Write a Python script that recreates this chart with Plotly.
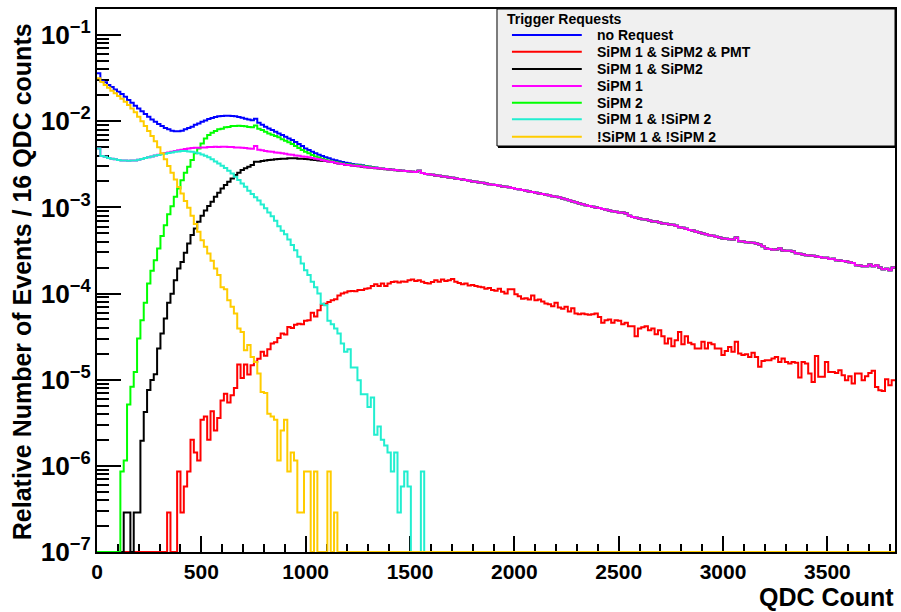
import numpy as np
import plotly.graph_objects as go

# ---------------------------------------------------------------------------
# Histogram binning: 16 QDC counts per bin
# ---------------------------------------------------------------------------
BIN_WIDTH = 16
N_BINS = 239
X_MAX = N_BINS * BIN_WIDTH
Y_FLOOR = 1e-7          # empty bins are drawn on the frame minimum (log scale)
Y_TOP_LOG = -0.697

# Trigger request categories (legend order)
names = [
    "no Request",
    "SiPM 1 & SiPM2 & PMT",
    "SiPM 1 & SiPM2",
    "SiPM 1",
    "SiPM 2",
    "SiPM 1 & !SiPM 2",
    "!SiPM 1 & !SiPM 2",
]
colors = ["#0000ff", "#ff0000", "#000000", "#ff00ff", "#00ff00", "#22eed0", "#ffcc00"]

# Region above ~1440 QDC where every SiPM-2-triggered sample coincides
tail_common = [
    2.69e-3, 2.66e-3, 2.64e-3, 2.62e-3, 2.59e-3, 2.57e-3, 2.66e-3, 2.50e-3, 2.45e-3, 2.42e-3,
    2.39e-3, 2.35e-3, 2.33e-3, 2.29e-3, 2.27e-3, 2.23e-3, 2.21e-3, 2.17e-3, 2.13e-3, 2.11e-3,
    2.08e-3, 2.04e-3, 2.00e-3, 1.98e-3, 1.95e-3, 1.93e-3, 1.90e-3, 1.86e-3, 1.83e-3, 1.82e-3,
    1.78e-3, 1.75e-3, 1.74e-3, 1.71e-3, 1.68e-3, 1.64e-3, 1.62e-3, 1.59e-3, 1.56e-3, 1.53e-3,
    1.51e-3, 1.48e-3, 1.45e-3, 1.43e-3, 1.40e-3, 1.38e-3, 1.35e-3, 1.33e-3, 1.31e-3, 1.27e-3,
    1.24e-3, 1.21e-3, 1.17e-3, 1.15e-3, 1.11e-3, 1.09e-3, 1.06e-3, 1.04e-3, 1.02e-3, 1.00e-3,
    9.81e-4, 9.55e-4, 9.38e-4, 9.21e-4, 9.05e-4, 8.89e-4, 8.65e-4, 8.74e-4, 8.51e-4, 8.00e-4,
    7.75e-4, 7.57e-4, 7.45e-4, 7.31e-4, 7.25e-4, 7.06e-4, 6.87e-4, 6.87e-4, 6.70e-4, 6.52e-4,
    6.45e-4, 6.34e-4, 6.28e-4, 6.11e-4, 5.90e-4, 5.79e-4, 5.64e-4, 5.45e-4, 5.40e-4, 5.20e-4,
    5.12e-4, 4.99e-4, 4.89e-4, 4.76e-4, 4.68e-4, 4.56e-4, 4.48e-4, 4.36e-4, 4.32e-4, 4.28e-4,
    4.25e-4, 4.48e-4, 4.06e-4, 4.02e-4, 3.95e-4, 3.92e-4, 3.88e-4, 3.82e-4, 3.71e-4, 3.55e-4,
    3.33e-4, 3.28e-4, 3.22e-4, 3.25e-4, 3.36e-4, 3.16e-4, 3.13e-4, 3.13e-4, 3.08e-4, 2.94e-4,
    2.89e-4, 2.84e-4, 2.79e-4, 2.77e-4, 2.74e-4, 2.70e-4, 2.65e-4, 2.60e-4, 2.60e-4, 2.51e-4,
    2.53e-4, 2.44e-4, 2.42e-4, 2.38e-4, 2.36e-4, 2.31e-4, 2.27e-4, 2.13e-4, 2.11e-4, 2.08e-4,
    2.08e-4, 2.17e-4, 2.08e-4, 2.13e-4, 2.00e-4, 1.91e-4, 1.94e-4, 1.87e-4, 2.00e-4,
]

no_request_head = [
    3.60e-2, 2.93e-2, 2.83e-2, 2.63e-2, 2.49e-2, 2.34e-2, 2.20e-2, 2.07e-2, 1.93e-2, 1.76e-2,
    1.64e-2, 1.51e-2, 1.41e-2, 1.31e-2, 1.21e-2, 1.13e-2, 1.05e-2, 9.87e-3, 9.27e-3, 8.79e-3,
    8.33e-3, 8.05e-3, 7.76e-3, 7.63e-3, 7.63e-3, 7.76e-3, 8.05e-3, 8.33e-3, 8.63e-3, 9.10e-3,
    9.44e-3, 9.87e-3, 1.02e-2, 1.06e-2, 1.09e-2, 1.12e-2, 1.14e-2, 1.15e-2, 1.16e-2, 1.16e-2,
    1.15e-2, 1.14e-2, 1.12e-2, 1.10e-2, 1.07e-2, 1.05e-2, 1.03e-2, 1.07e-2, 9.60e-3, 9.10e-3,
    8.63e-3, 8.26e-3, 7.91e-3, 7.55e-3, 7.23e-3, 6.92e-3, 6.61e-3, 6.32e-3, 6.05e-3, 5.73e-3,
    5.43e-3, 5.15e-3, 4.84e-3, 4.63e-3, 4.42e-3, 4.24e-3, 4.08e-3, 3.94e-3, 3.81e-3, 3.71e-3,
    3.60e-3, 3.52e-3, 3.44e-3, 3.37e-3, 3.30e-3, 3.25e-3, 3.20e-3, 3.15e-3, 3.12e-3, 3.08e-3,
    3.03e-3, 2.98e-3, 2.94e-3, 2.90e-3, 2.87e-3, 2.83e-3, 2.80e-3, 2.77e-3, 2.74e-3, 2.71e-3,
]

sipm2_head = [
    0.0, 0.0, 0.0, 0.0, 0.0, 0.0, 0.0, 8.6e-7, 1.15e-6, 5.15e-6,
    8.3e-6, 1.23e-5, 3.0e-5, 4.9e-5, 7.8e-5, 1.31e-4, 1.84e-4, 2.44e-4, 3.34e-4, 4.65e-4,
    6.2e-4, 8.3e-4, 1.03e-3, 1.33e-3, 1.66e-3, 2.07e-3, 2.52e-3, 2.96e-3, 3.54e-3, 4.24e-3,
    4.84e-3, 5.53e-3, 6.32e-3, 6.92e-3, 7.35e-3, 7.69e-3, 8.05e-3, 8.20e-3, 8.50e-3, 8.60e-3,
    8.80e-3, 8.80e-3, 8.85e-3, 8.80e-3, 8.75e-3, 8.60e-3, 8.50e-3, 8.90e-3, 8.20e-3, 7.90e-3,
    7.55e-3, 7.23e-3, 6.97e-3, 6.73e-3, 6.50e-3, 6.20e-3, 5.94e-3, 5.69e-3, 5.43e-3, 5.15e-3,
    4.88e-3, 4.63e-3, 4.42e-3, 4.24e-3, 4.05e-3, 3.91e-3, 3.80e-3, 3.68e-3, 3.58e-3, 3.49e-3,
    3.42e-3, 3.36e-3, 3.30e-3, 3.24e-3, 3.19e-3, 3.16e-3, 3.13e-3, 3.10e-3, 3.08e-3, 3.05e-3,
    3.00e-3, 2.96e-3, 2.92e-3, 2.89e-3, 2.86e-3, 2.82e-3, 2.79e-3, 2.76e-3, 2.74e-3, 2.71e-3,
]

sipm1_and_sipm2_head = [
    0.0, 0.0, 0.0, 0.0, 0.0, 0.0, 0.0, 0.0, 2.87e-7, 2.87e-7,
    0.0, 2.87e-7, 2.87e-7, 1.95e-6, 4.23e-6, 7.6e-6, 9.9e-6, 1.16e-5, 2.30e-5, 3.44e-5,
    5.14e-5, 7.8e-5, 9.98e-5, 1.43e-4, 1.95e-4, 2.33e-4, 2.97e-4, 3.82e-4, 4.77e-4, 5.70e-4,
    6.81e-4, 8.0e-4, 9.2e-4, 1.04e-3, 1.16e-3, 1.33e-3, 1.48e-3, 1.66e-3, 1.82e-3, 1.98e-3,
    2.17e-3, 2.37e-3, 2.52e-3, 2.71e-3, 2.84e-3, 2.96e-3, 3.10e-3, 3.39e-3, 3.39e-3, 3.45e-3,
    3.51e-3, 3.54e-3, 3.57e-3, 3.61e-3, 3.64e-3, 3.68e-3, 3.68e-3, 3.71e-3, 3.71e-3, 3.71e-3,
    3.68e-3, 3.68e-3, 3.64e-3, 3.61e-3, 3.57e-3, 3.54e-3, 3.51e-3, 3.48e-3, 3.45e-3, 3.42e-3,
    3.36e-3, 3.30e-3, 3.24e-3, 3.18e-3, 3.13e-3, 3.10e-3, 3.07e-3, 3.04e-3, 3.00e-3, 2.97e-3,
    2.93e-3, 2.90e-3, 2.88e-3, 2.85e-3, 2.83e-3, 2.80e-3, 2.78e-3, 2.75e-3, 2.73e-3, 2.70e-3,
]

sipm1_head = [
    4.84e-3, 3.94e-3, 3.87e-3, 3.74e-3, 3.68e-3, 3.61e-3, 3.54e-3, 3.51e-3, 3.51e-3, 3.48e-3,
    3.51e-3, 3.51e-3, 3.57e-3, 3.64e-3, 3.74e-3, 3.81e-3, 3.91e-3, 4.01e-3, 4.08e-3, 4.20e-3,
    4.27e-3, 4.35e-3, 4.43e-3, 4.51e-3, 4.60e-3, 4.67e-3, 4.75e-3, 4.84e-3, 4.88e-3, 4.92e-3,
    4.92e-3, 4.96e-3, 4.96e-3, 5.01e-3, 5.01e-3, 5.06e-3, 5.01e-3, 5.06e-3, 5.06e-3, 5.01e-3,
    5.01e-3, 4.96e-3, 4.96e-3, 4.92e-3, 4.88e-3, 4.84e-3, 4.79e-3, 5.15e-3, 4.67e-3, 4.60e-3,
    4.51e-3, 4.47e-3, 4.43e-3, 4.35e-3, 4.31e-3, 4.24e-3, 4.20e-3, 4.12e-3, 4.08e-3, 4.01e-3,
    3.98e-3, 3.91e-3, 3.87e-3, 3.81e-3, 3.74e-3, 3.68e-3, 3.61e-3, 3.54e-3, 3.48e-3, 3.42e-3,
    3.36e-3, 3.30e-3, 3.24e-3, 3.18e-3, 3.13e-3, 3.10e-3, 3.07e-3, 3.04e-3, 3.02e-3, 2.99e-3,
    2.94e-3, 2.91e-3, 2.89e-3, 2.86e-3, 2.84e-3, 2.81e-3, 2.79e-3, 2.76e-3, 2.74e-3, 2.71e-3,
]

# Non-empty bins from 0 QDC onward; the remaining bins are empty
pmt_coinc = [
    0.0, 0.0, 0.0, 0.0, 0.0, 0.0, 0.0, 0.0, 0.0, 0.0,
    0.0, 0.0, 0.0, 0.0, 0.0, 0.0, 0.0, 0.0, 0.0, 0.0,
    0.0, 2.87e-7, 0.0, 0.0, 8.6e-7, 2.87e-7, 5.74e-7, 8.6e-7, 2.01e-6, 1.43e-6,
    1.15e-6, 3.44e-6, 3.73e-6, 2.01e-6, 4.31e-6, 2.58e-6, 3.59e-6, 5.74e-6, 6.89e-6, 5.45e-6,
    6.6e-6, 8.0e-6, 1.50e-5, 1.05e-5, 1.50e-5, 1.15e-5, 1.47e-5, 1.62e-5, 1.75e-5, 2.11e-5,
    1.90e-5, 2.25e-5, 2.63e-5, 2.72e-5, 3.05e-5, 3.44e-5, 3.35e-5, 4.08e-5, 3.98e-5, 4.35e-5,
    4.45e-5, 4.41e-5, 4.82e-5, 4.9e-5, 5.97e-5, 5.43e-5, 6.41e-5, 7.4e-5, 7.6e-5, 8.0e-5,
    8.38e-5, 8.6e-5, 9.5e-5, 1.00e-4, 1.03e-4, 1.06e-4, 1.07e-4, 1.06e-4, 1.10e-4, 1.10e-4,
    1.14e-4, 1.15e-4, 1.22e-4, 1.28e-4, 1.22e-4, 1.31e-4, 1.22e-4, 1.31e-4, 1.36e-4, 1.38e-4,
    1.34e-4, 1.38e-4, 1.37e-4, 1.43e-4, 1.46e-4, 1.40e-4, 1.43e-4, 1.37e-4, 1.33e-4, 1.31e-4,
    1.36e-4, 1.43e-4, 1.37e-4, 1.46e-4, 1.40e-4, 1.43e-4, 1.48e-4, 1.37e-4, 1.33e-4, 1.28e-4,
    1.31e-4, 1.24e-4, 1.26e-4, 1.22e-4, 1.20e-4, 1.18e-4, 1.14e-4, 1.16e-4, 1.10e-4, 1.08e-4,
    1.14e-4, 1.05e-4, 1.00e-4, 1.12e-4, 1.12e-4, 9.84e-5, 9.33e-5, 8.68e-5, 8.84e-5, 8.53e-5,
    9.50e-5, 8.38e-5, 8.53e-5, 8.09e-5, 7.67e-5, 7.53e-5, 7.14e-5, 7.80e-5, 6.89e-5, 6.64e-5,
    7.01e-5, 6.19e-5, 6.76e-5, 5.87e-5, 5.76e-5, 5.87e-5, 5.76e-5, 5.66e-5, 5.76e-5, 5.87e-5,
    5.36e-5, 4.57e-5, 4.91e-5, 5.00e-5, 4.57e-5, 4.91e-5, 4.82e-5, 4.41e-5, 4.57e-5, 4.18e-5,
    4.18e-5, 3.20e-5, 3.94e-5, 4.05e-5, 4.18e-5, 3.76e-5, 3.94e-5, 3.37e-5, 3.76e-5, 3.20e-5,
    2.63e-5, 3.00e-5, 2.45e-5, 2.87e-5, 3.59e-5, 2.58e-5, 3.20e-5, 2.68e-5, 2.58e-5, 2.30e-5,
    2.30e-5, 2.75e-5, 2.30e-5, 2.68e-5, 2.58e-5, 2.30e-5, 2.30e-5, 1.93e-5, 2.16e-5, 2.40e-5,
    2.11e-5, 2.75e-5, 2.01e-5, 1.93e-5, 1.98e-5, 1.84e-5, 2.05e-5, 1.84e-5, 1.41e-5, 1.65e-5,
    1.68e-5, 1.68e-5, 1.76e-5, 1.84e-5, 1.61e-5, 1.76e-5, 1.61e-5, 1.54e-5, 1.61e-5, 1.57e-5,
    1.06e-5, 1.61e-5, 1.54e-5, 1.18e-5, 9.42e-6, 1.88e-5, 1.08e-5, 1.08e-5, 1.61e-5, 1.23e-5,
    1.23e-5, 1.20e-5, 1.29e-5, 1.13e-5, 9.87e-6, 1.10e-5, 9.03e-6, 1.18e-5, 1.18e-5, 9.87e-6,
    1.10e-5, 1.20e-5, 1.27e-5, 8.25e-6, 7.55e-6, 7.41e-6, 1.01e-5, 8.63e-6, 9.87e-6,
]

sipm1_not_sipm2 = [
    4.84e-3, 3.94e-3, 3.87e-3, 3.74e-3, 3.68e-3, 3.61e-3, 3.54e-3, 3.51e-3, 3.51e-3, 3.48e-3,
    3.51e-3, 3.51e-3, 3.57e-3, 3.64e-3, 3.74e-3, 3.81e-3, 3.91e-3, 4.01e-3, 4.05e-3, 4.14e-3,
    4.20e-3, 4.27e-3, 4.35e-3, 4.43e-3, 4.47e-3, 4.51e-3, 4.51e-3, 4.47e-3, 4.43e-3, 4.35e-3,
    4.24e-3, 4.12e-3, 3.98e-3, 3.81e-3, 3.61e-3, 3.42e-3, 3.24e-3, 3.04e-3, 2.86e-3, 2.66e-3,
    2.48e-3, 2.27e-3, 2.08e-3, 1.90e-3, 1.74e-3, 1.56e-3, 1.43e-3, 1.31e-3, 1.20e-3, 1.08e-3,
    9.8e-4, 8.7e-4, 7.9e-4, 6.99e-4, 6.06e-4, 5.35e-4, 4.89e-4, 4.25e-4, 3.65e-4, 3.19e-4,
    2.67e-4, 2.24e-4, 1.87e-4, 1.64e-4, 1.37e-4, 1.18e-4, 1.00e-4, 7.6e-5, 7.33e-5, 4.82e-5,
    4.41e-5, 3.94e-5, 3.44e-5, 2.64e-5, 2.11e-5, 2.25e-5, 1.39e-5, 1.39e-5, 9.87e-6, 6.79e-6,
    6.79e-6, 4.83e-6, 6.21e-6, 2.30e-6, 2.87e-6, 2.01e-6, 1.72e-6, 1.43e-6, 8.6e-7, 1.43e-6,
    2.87e-7, 5.74e-7, 8.6e-7, 5.74e-7, 0.0, 0.0, 0.0, 8.6e-7,
]

no_sipm = [
    3.15e-2, 2.85e-2, 2.63e-2, 2.45e-2, 2.26e-2, 2.11e-2, 1.96e-2, 1.83e-2, 1.68e-2, 1.54e-2,
    1.41e-2, 1.27e-2, 1.13e-2, 1.00e-2, 8.79e-3, 7.69e-3, 6.73e-3, 5.85e-3, 4.98e-3, 4.24e-3,
    3.61e-3, 3.02e-3, 2.52e-3, 2.11e-3, 1.73e-3, 1.45e-3, 1.19e-3, 9.9e-4, 8.0e-4, 6.4e-4,
    5.21e-4, 4.17e-4, 3.49e-4, 2.92e-4, 2.40e-4, 1.95e-4, 1.64e-4, 1.18e-4, 1.12e-4, 8.38e-5,
    7.01e-5, 5.87e-5, 3.94e-5, 3.59e-5, 2.20e-5, 2.52e-5, 1.84e-5, 1.61e-5, 1.18e-5, 7.2e-6,
    7.0e-6, 4.02e-6, 3.73e-6, 3.44e-6, 1.15e-6, 2.58e-6, 3.44e-6, 8.6e-7, 1.43e-6, 1.15e-6,
    2.87e-7, 2.87e-7, 8.6e-7, 8.6e-7, 0.0, 8.6e-7, 0.0, 0.0, 0.0, 8.6e-7,
    0.0, 2.87e-7,
]


def full_series(values):
    """Pad a list of leading bins with empty bins up to N_BINS."""
    arr = np.zeros(N_BINS)
    arr[: len(values)] = values
    return arr


series = [
    full_series(no_request_head + tail_common),
    full_series(pmt_coinc),
    full_series(sipm1_and_sipm2_head + tail_common),
    full_series(sipm1_head + tail_common),
    full_series(sipm2_head + tail_common),
    full_series(sipm1_not_sipm2),
    full_series(no_sipm),
]

edges = np.arange(N_BINS + 1) * BIN_WIDTH

fig = go.Figure()

# drawing order: later traces sit on top
draw_order = [0, 1, 2, 4, 3, 5, 6]
for i in draw_order:
    vals = np.where(series[i] > 0, series[i], Y_FLOOR)
    y = np.append(vals, vals[-1])
    fig.add_trace(go.Scatter(
        x=edges, y=y, mode="lines", name=names[i],
        line=dict(color=colors[i], width=2, shape="hv"),
        showlegend=False, hoverinfo="skip",
    ))

# ---------------------------------------------------------------------------
# Layout
# ---------------------------------------------------------------------------
W_FIG, H_FIG = 901, 612
M_L, M_R, M_T, M_B = 97, 4, 9, 60
PW, PH = W_FIG - M_L - M_R, H_FIG - M_T - M_B


def px_x(px):
    return (px - M_L) / PW


def px_y(py):
    return (M_T + PH - py) / PH


FONT = "Liberation Sans, Arial, Helvetica, sans-serif"
tick_font = dict(family=FONT, size=21, color="black", weight="bold")

fig.update_layout(
    width=W_FIG, height=H_FIG,
    margin=dict(l=M_L, r=M_R, t=M_T, b=M_B, pad=0),
    paper_bgcolor="white", plot_bgcolor="white",
    showlegend=False,
    xaxis=dict(
        range=[0, X_MAX], showgrid=False, zeroline=False,
        showline=True, linecolor="black", linewidth=2, mirror=True,
        tickmode="linear", tick0=0, dtick=500,
        ticks="inside", ticklen=16, tickwidth=2, tickcolor="black",
        minor=dict(ticks="inside", ticklen=8, tickwidth=2, tickcolor="black",
                   dtick=100, showgrid=False),
        tickfont=tick_font, layer="below traces",
    ),
    yaxis=dict(
        type="log", range=[-7, Y_TOP_LOG], showgrid=False, zeroline=False,
        showline=True, linecolor="black", linewidth=2, mirror=True,
        dtick=1, exponentformat="power", showexponent="all",
        ticks="inside", ticklen=24, tickwidth=2, tickcolor="black",
        minor=dict(ticks="inside", ticklen=12, tickwidth=2, tickcolor="black",
                   dtick="D1", showgrid=False),
        tickfont=tick_font, layer="below traces",
    ),
)

# Axis titles
fig.add_annotation(
    text="Relative Number of Events / 16 QDC counts",
    xref="paper", yref="paper", x=px_x(22), y=px_y(282),
    xanchor="center", yanchor="middle", textangle=-90, showarrow=False,
    font=dict(family=FONT, size=25, color="black", weight="bold"),
)
fig.add_annotation(
    text="QDC Count",
    xref="paper", yref="paper", x=px_x(898), y=px_y(597),
    xanchor="right", yanchor="middle", showarrow=False,
    font=dict(family=FONT, size=25, color="black", weight="bold"),
)

# Legend box
LEG_L, LEG_R, LEG_T, LEG_B = 498, 897, 9, 146
fig.add_shape(type="rect", xref="paper", yref="paper",
              x0=px_x(LEG_L), x1=px_x(LEG_R), y0=px_y(LEG_B), y1=px_y(LEG_T),
              fillcolor="#f0f0f0", line=dict(color="black", width=1), layer="above")
fig.add_shape(type="line", xref="paper", yref="paper",
              x0=px_x(LEG_L + 1), x1=px_x(LEG_R), y0=px_y(LEG_B + 1), y1=px_y(LEG_B + 1),
              line=dict(color="black", width=2), layer="above")
fig.add_annotation(
    text="Trigger Requests", xref="paper", yref="paper",
    x=px_x(506), y=px_y(18.5), xanchor="left", yanchor="middle", showarrow=False,
    font=dict(family=FONT, size=14, color="black", weight="bold"),
)
row_y = [35, 51.7, 69, 86, 102.7, 119.3, 136.7]
for name, col, ry in zip(names, colors, row_y):
    fig.add_shape(type="line", xref="paper", yref="paper",
                  x0=px_x(513), x1=px_x(583), y0=px_y(ry), y1=px_y(ry),
                  line=dict(color=col, width=2), layer="above")
    fig.add_annotation(
        text=name, xref="paper", yref="paper",
        x=px_x(596), y=px_y(ry), xanchor="left", yanchor="middle", showarrow=False,
        font=dict(family=FONT, size=14, color="black", weight="bold"),
    )

fig.write_html("out.html")
